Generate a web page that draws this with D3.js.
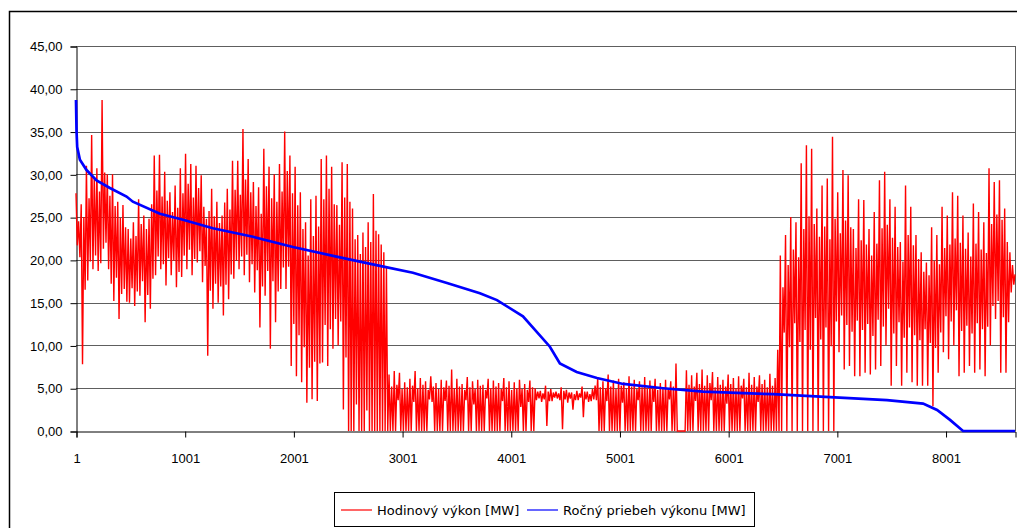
<!DOCTYPE html>
<html>
<head>
<meta charset="utf-8">
<script src="https://cdn.jsdelivr.net/npm/d3@7"></script>
<style>
  body { margin: 0; background: #fff; }
  svg { display: block; font-family: "DejaVu Sans", sans-serif; }
  .tick text { font-size: 13px; fill: #000; }
</style>
</head>
<body>
<div id="chart"></div>
<script>
var hoursPerDay = 24;
var redHigh = [
  27.8, 24.5, 26.5, 25.0, 31.0, 27.2, 34.6, 29.5, 30.7, 28.0,
  38.7, 30.2, 30.0, 27.5, 30.0, 26.3, 26.8, 24.9, 26.4, 23.8,
  23.6, 22.5, 24.4, 22.8, 27.1, 24.2, 25.2, 23.6, 24.8, 26.5,
  32.2, 28.1, 32.3, 27.4, 30.3, 26.9, 27.9, 25.6, 28.7, 26.1,
  30.7, 27.8, 32.4, 28.9, 31.2, 27.3, 31.0, 28.4, 29.9, 26.2,
  24.8, 25.7, 28.3, 25.1, 26.8, 24.3, 25.2, 26.7, 28.3, 25.9,
  31.6, 28.2, 31.6, 27.6, 35.3, 29.4, 31.8, 27.9, 29.1, 26.3,
  28.5, 25.4, 33.0, 28.6, 30.9, 27.2, 30.0, 26.8, 31.2, 28.0,
  35.0, 30.4, 32.2, 27.8, 30.9, 26.4, 27.9, 23.6, 24.4, 20.5,
  27.1, 22.8, 27.5, 23.9, 31.8, 27.1, 32.2, 28.3, 30.9, 26.5,
  26.4, 24.1, 31.4, 27.3, 31.2, 26.8, 26.0, 22.4, 22.9, 20.7,
  23.2, 21.5, 24.4, 22.1, 27.7, 23.4, 23.0, 21.8, 20.9, 19.2,
  6.6, 5.2, 7.0, 5.4, 6.8, 4.9, 5.7, 5.1, 6.1, 5.3,
  7.0, 5.0, 6.2, 5.4, 5.8, 4.8, 6.4, 5.2, 5.6, 4.9,
  6.0, 5.1, 5.9, 5.3, 7.2, 5.0, 6.1, 5.2, 5.5, 4.8,
  6.3, 5.1, 5.8, 4.9, 6.0, 5.3, 5.4, 4.8, 6.1, 5.0,
  5.9, 5.2, 5.6, 4.9, 6.2, 5.1, 5.8, 4.8, 5.7, 5.0,
  6.0, 4.9, 5.5, 4.8, 5.9, 5.1, 5.0, 4.6, 4.7, 4.4,
  5.3, 4.6, 4.9, 4.5, 4.6, 4.4, 5.1, 4.7, 4.8, 4.5,
  4.5, 4.3, 4.7, 4.4, 5.2, 4.6, 4.6, 4.3, 4.9, 5.3,
  6.2, 5.1, 5.8, 5.0, 6.6, 5.2, 5.9, 4.9, 6.1, 5.3,
  5.7, 5.0, 6.4, 5.2, 6.0, 4.9, 5.8, 5.1, 6.3, 5.0,
  5.9, 5.2, 6.1, 4.8, 5.6, 5.1, 6.0, 5.0, 5.8, 5.2,
  7.9, 0.0, 0.0, 0.0, 7.1, 5.4, 6.5, 5.2, 6.8, 5.5,
  7.2, 5.3, 6.5, 5.6, 6.9, 5.1, 6.3, 5.4, 6.0, 5.2,
  6.6, 5.5, 6.2, 5.0, 6.4, 5.3, 6.1, 5.1, 6.8, 5.4,
  6.3, 5.2, 6.5, 5.5, 6.0, 5.1, 6.7, 5.3, 6.2, 9.5,
  20.5, 16.8, 22.9, 19.4, 25.0, 21.2, 24.4, 20.3, 31.3, 23.6,
  33.4, 25.1, 33.0, 24.2, 26.0, 22.7, 28.7, 23.9, 29.5, 22.4,
  34.4, 24.8, 27.9, 23.1, 30.5, 24.6, 29.9, 23.8, 23.6, 21.4,
  27.1, 22.3, 27.0, 21.8, 23.6, 20.5, 25.6, 21.9, 29.3, 23.7,
  30.3, 24.1, 27.1, 22.6, 26.2, 21.5, 22.1, 19.8, 28.7, 22.9,
  26.2, 21.7, 22.9, 20.1, 20.9, 18.6, 19.7, 18.2, 23.8, 19.9,
  22.9, 19.5, 26.2, 21.4, 25.2, 21.8, 27.9, 22.5, 27.5, 22.0,
  25.2, 21.3, 23.2, 20.4, 26.6, 21.9, 25.6, 21.2, 24.4, 20.8,
  30.7, 24.2, 29.1, 25.3, 29.3, 24.7, 26.0, 22.1, 20.9, 19.4
];
var redLow = [
  21.7, 20.3, 7.8, 16.5, 17.6, 19.8, 18.9, 20.5, 18.7, 19.6,
  21.3, 22.0, 18.9, 17.2, 15.2, 17.9, 13.1, 16.0, 16.6, 15.1,
  15.0, 16.7, 14.6, 16.3, 15.8, 17.5, 12.7, 15.9, 14.3, 17.8,
  18.2, 20.4, 18.9, 19.5, 17.0, 20.2, 18.2, 19.9, 16.8, 18.6,
  18.0, 20.5, 18.9, 21.2, 18.2, 20.1, 19.7, 21.0, 17.4, 19.3,
  8.8, 16.4, 14.3, 17.2, 15.0, 16.9, 13.5, 17.1, 15.4, 18.3,
  17.8, 19.9, 18.9, 20.4, 18.2, 20.6, 17.4, 19.5, 16.2, 18.8,
  12.1, 16.9, 15.8, 18.7, 9.6, 17.5, 12.7, 16.3, 16.6, 19.1,
  16.6, 19.2, 7.6, 12.5, 6.4, 11.2, 5.7, 9.8, 3.3, 7.4,
  3.7, 8.1, 3.5, 7.9, 8.0, 12.4, 7.6, 11.9, 9.6, 13.1,
  10.0, 12.8, 2.5, 8.6, 0, 0, 0, 3.1, 0, 0,
  0, 2.4, 0, 0, 0, 0, 0, 0, 0, 0,
  0, 0, 0, 3.6, 0, 0, 0, 0, 0, 3.4,
  0, 0, 0, 0, 0, 3.7, 3.4, 0, 0, 0,
  0, 3.5, 0, 0, 0, 0, 0, 0, 0, 3.6,
  0, 0, 3.1, 0, 0, 0, 0, 3.8, 0, 0,
  0, 0, 0, 3.5, 0, 0, 0, 0, 0, 0,
  2.8, 0, 0, 3.4, 0, 0, 3.6, 3.8, 3.4, 3.7,
  0.6, 3.5, 3.5, 3.9, 3.8, 3.6, 0.2, 3.7, 3.3, 3.8,
  2.5, 3.6, 3.6, 3.9, 1.6, 3.7, 3.4, 3.5, 3.7, 3.6,
  0, 0, 0, 3.5, 0, 0, 0, 0, 0, 3.3,
  0, 0, 0, 0, 0, 3.6, 0, 0, 0, 0,
  0, 3.4, 0, 0, 0, 0, 0, 3.7, 0, 0,
  0, 0, 0, 0, 0, 0, 0, 3.5, 0, 0,
  0, 0, 0, 3.6, 0, 0, 0, 0, 0, 3.2,
  0, 0, 0, 0, 0, 3.8, 0, 0, 0, 0,
  0, 3.4, 0, 0, 0, 0, 0, 0, 0, 0,
  0, 11.5, 0, 9.8, 0, 12.6, 0, 10.4, 0, 11.8,
  0, 9.5, 0, 13.2, 0, 10.7, 0, 12.1, 0, 9.9,
  0, 12.8, 9.2, 13.5, 7.2, 12.4, 7.6, 11.6, 6.4, 12.9,
  6.4, 11.8, 6.8, 12.5, 6.6, 11.1, 7.2, 13.0, 7.6, 12.2,
  10.0, 14.3, 5.3, 11.4, 7.6, 12.7, 5.3, 10.9, 6.8, 12.1,
  5.7, 11.2, 5.3, 10.6, 5.3, 11.9, 5.3, 10.3, 2.9, 9.7,
  6.8, 11.5, 9.2, 13.4, 8.4, 12.8, 10.0, 14.1, 6.4, 11.7,
  6.8, 12.3, 7.6, 11.4, 6.8, 12.6, 7.2, 11.9, 6.4, 12.2,
  10.0, 14.6, 13.1, 15.2, 6.8, 13.3, 6.8, 12.7, 16.2, 17.1
];
var redLastHour = 8640;
var redLastValue = 18.3;

// Annual duration curve: hour, MW
var blueHours = [1, 6, 12, 37, 98, 190, 313, 466, 524, 773, 985, 1260, 1629, 1997,
  2429, 2797, 3101, 3414, 3717, 3874, 4113, 4361, 4453, 4607, 4794, 5035, 5403,
  5770, 6413, 6938, 7462, 7794, 7923, 8042, 8162, 8640];
var blueValues = [38.7, 35.0, 33.2, 31.7, 30.5, 29.3, 28.4, 27.4, 26.8, 25.4, 24.7, 23.7, 22.7, 21.5,
  20.3, 19.3, 18.5, 17.3, 16.1, 15.3, 13.4, 9.85, 7.9, 6.9, 6.2, 5.5, 5.0,
  4.6, 4.3, 3.95, 3.6, 3.2, 2.45, 1.3, 0, 0];

var yTicks = [0, 5, 10, 15, 20, 25, 30, 35, 40, 45];
var xTicks = [1, 1001, 2001, 3001, 4001, 5001, 6001, 7001, 8001];
var seriesNames = ['Hodinový výkon [MW]', 'Ročný priebeh výkonu [MW]'];
var seriesColors = ['#ff0000', '#0000ff'];

var width = 1017;
var height = 528;

var svg = d3.select('#chart')
  .append('svg')
  .attr('width', width)
  .attr('height', height);

// chart frame (runs off the right and bottom edge like the original)
svg.append('rect')
  .attr('x', 9.5)
  .attr('y', 11.5)
  .attr('width', 1030)
  .attr('height', 540)
  .attr('fill', '#fff')
  .attr('stroke', '#000')
  .attr('stroke-width', 1.5);

var x = d3.scaleLinear()
  .domain([1, redLastHour])
  .range([76, 1015]);
var y = d3.scaleLinear()
  .domain([0, 45])
  .range([431, 46]);

// gridlines
svg.append('g')
  .selectAll('line')
  .data(yTicks.slice(1))
  .enter()
  .append('line')
  .attr('x1', x.range()[0])
  .attr('x2', x.range()[1])
  .attr('y1', function(d) { return Math.round(y(d)) + 0.5; })
  .attr('y2', function(d) { return Math.round(y(d)) + 0.5; })
  .attr('stroke', '#5e5e5e')
  .attr('stroke-width', 1);

// right edge of plot area
svg.append('line')
  .attr('x1', Math.round(x.range()[1]) + 0.5)
  .attr('x2', Math.round(x.range()[1]) + 0.5)
  .attr('y1', y(45))
  .attr('y2', y(0))
  .attr('stroke', '#5e5e5e');

var fmt = function(d) { return d3.format('.2f')(d).replace('.', ','); };

var yAxis = svg.append('g')
  .attr('transform', 'translate(' + (x.range()[0] + 0.5) + ',0.5)')
  .call(d3.axisLeft(y).tickValues(yTicks).tickFormat(fmt).tickSize(6).tickPadding(8));
var xAxis = svg.append('g')
  .attr('transform', 'translate(0.5,' + (Math.round(y(0)) + 0.5) + ')')
  .call(d3.axisBottom(x).tickValues(xTicks).tickFormat(d3.format('d')).tickSize(6).tickPadding(16));
[yAxis, xAxis].forEach(function(a) {
  a.select('.domain').attr('stroke', '#000');
  a.selectAll('.tick line').attr('stroke', '#000');
});

// daily peak then daily trough
var redPoints = [];
redHigh.forEach(function(h, i) {
  redPoints.push([1 + i * hoursPerDay, h]);
  redPoints.push([1 + i * hoursPerDay + hoursPerDay / 2, redLow[i]]);
});
redPoints.push([redLastHour, redLastValue]);

var bluePoints = blueHours.map(function(h, i) { return [h, blueValues[i]]; });

var line = d3.line()
  .x(function(d) { return x(d[0]); })
  .y(function(d) { return y(d[1]); });

svg.append('path')
  .datum(redPoints)
  .attr('d', line)
  .attr('fill', 'none')
  .attr('stroke', seriesColors[0])
  .attr('stroke-width', 1.4)
  .attr('stroke-linejoin', 'miter')
  .attr('stroke-miterlimit', 2);

svg.append('path')
  .datum(bluePoints)
  .attr('d', line)
  .attr('fill', 'none')
  .attr('stroke', seriesColors[1])
  .attr('stroke-width', 2.7);

// legend
var legend = svg.append('g');
legend.append('rect')
  .attr('x', 334.5)
  .attr('y', 492.5)
  .attr('width', 420)
  .attr('height', 34)
  .attr('fill', '#fff')
  .attr('stroke', '#000');
var legendX = [341, 527];
seriesNames.forEach(function(name, i) {
  legend.append('line')
    .attr('x1', legendX[i])
    .attr('x2', legendX[i] + 31)
    .attr('y1', 510)
    .attr('y2', 510)
    .attr('stroke', seriesColors[i])
    .attr('stroke-width', 1.2);
  legend.append('text')
    .attr('x', legendX[i] + 36)
    .attr('y', 514.5)
    .attr('font-size', 13)
    .text(name);
});
</script>
</body>
</html>
